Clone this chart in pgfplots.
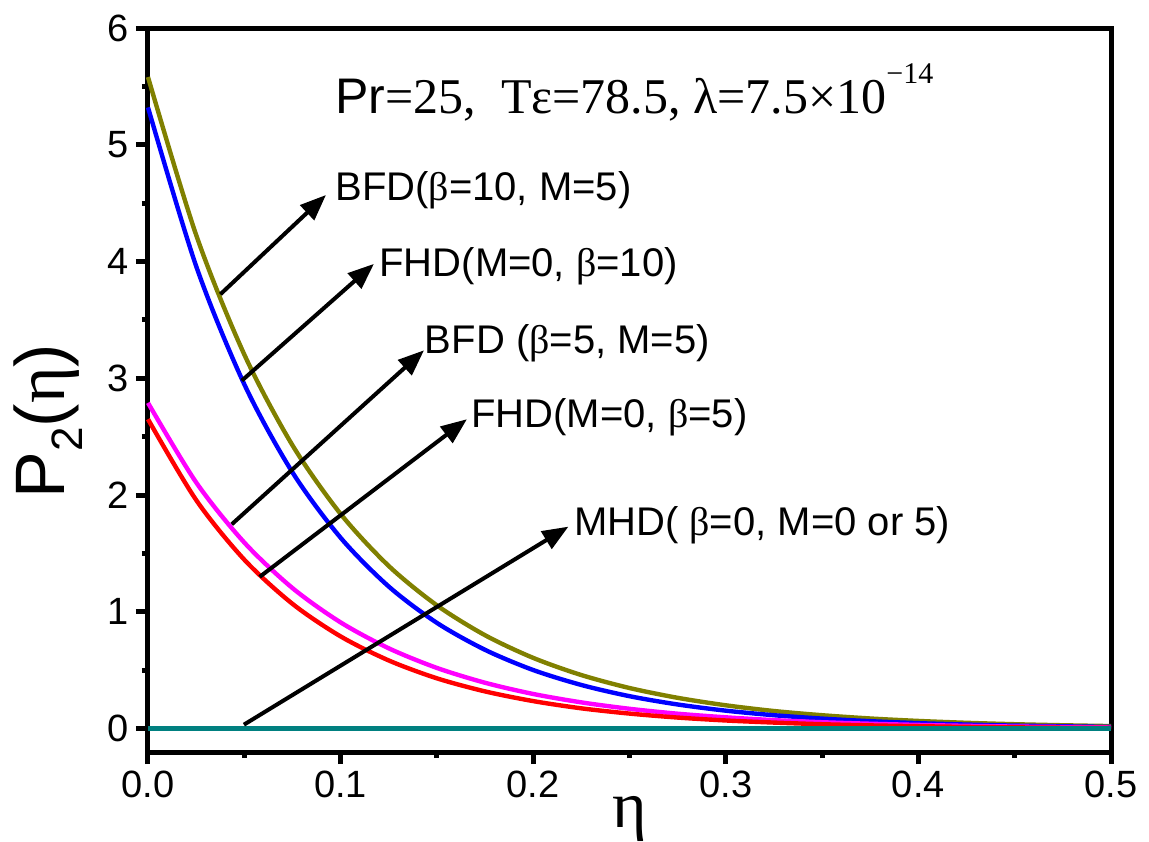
\documentclass[border=0pt]{standalone}
\usepackage{pgfplots}
\usepackage{pgfplotstable}
\pgfplotsset{compat=1.18}
\usetikzlibrary{arrows.meta}
\usepackage{fontspec}
\setmainfont{Liberation Serif}
\setsansfont{Liberation Sans}
\definecolor{curveolive}{RGB}{128,128,0}
\definecolor{curveteal}{RGB}{0,128,128}
\definecolor{curvemagenta}{RGB}{255,0,255}
\definecolor{curveblue}{RGB}{0,0,255}
\definecolor{curvered}{RGB}{255,0,0}
\newcommand{\gb}{{\rmfamily β}}

% eta, BFD(beta=10), FHD(beta=10), BFD(beta=5), FHD(beta=5)
\pgfplotstableread{
x      bfdten fhdten bfdfive fhdfive
0.000  5.580  5.320  2.790   2.650
0.025  4.228  3.961  2.109   1.958
0.050  3.204  2.949  1.594   1.447
0.075  2.427  2.195  1.204   1.069
0.100  1.839  1.635  0.910   0.790
0.125  1.393  1.217  0.688   0.584
0.150  1.056  0.906  0.520   0.431
0.175  0.800  0.675  0.393   0.319
0.200  0.606  0.502  0.297   0.236
0.225  0.459  0.374  0.225   0.174
0.250  0.348  0.278  0.170   0.129
0.275  0.264  0.207  0.128   0.095
0.300  0.200  0.154  0.097   0.070
0.325  0.151  0.115  0.073   0.052
0.350  0.115  0.086  0.055   0.038
0.375  0.087  0.064  0.042   0.028
0.400  0.066  0.047  0.032   0.021
0.425  0.050  0.035  0.024   0.015
0.450  0.038  0.026  0.018   0.011
0.475  0.029  0.020  0.014   0.008
0.500  0.022  0.015  0.010   0.006
}\curves

\begin{document}
\begin{tikzpicture}[
  note/.style={anchor=base west, inner sep=0pt, font=\sffamily\fontsize{20}{24}\selectfont},
  pointer/.style={line width=2pt, -{Triangle[length=13pt,width=10pt]}},
]
\useasboundingbox (-74pt,-44.5pt) rectangle (500.5pt,376pt);
\begin{axis}[
  at={(0,0)}, anchor=south west,
  scale only axis, width=481.5pt, height=362pt,
  xmin=0, xmax=0.5, ymin=-0.2, ymax=6,
  xtick={0,0.1,...,0.5}, ytick={0,1,...,6},
  minor x tick num=1, minor y tick num=1,
  xtick pos=left, ytick pos=left,
  tick align=outside,
  major tick length=6pt, minor tick length=3pt,
  axis line style={line width=2.5pt},
  every tick/.style={black, line width=2.5pt},
  xticklabel style={/pgf/number format/.cd, fixed, fixed zerofill, precision=1},
  /pgf/number format/assume math mode=true,
  tick label style={font=\sffamily\fontsize{19}{22}\selectfont},
  xlabel={η}, ylabel={P\raisebox{-0.25em}{\fontsize{22}{22}\selectfont 2}({\rmfamily η})},
  xlabel style={at={(axis description cs:0.5,-0.104)}, anchor=base,
    font=\rmfamily\fontsize{33}{36}\selectfont},
  ylabel style={at={(axis description cs:-0.0862,0.457)}, anchor=base,
    font=\sffamily\fontsize{35}{38}\selectfont},
  clip=false,
]
\addplot[no marks, smooth, line width=2.2pt, curveolive] table[x=x, y=bfdten] {\curves};
\addplot[no marks, smooth, line width=2.2pt, curveblue] table[x=x, y=fhdten] {\curves};
\addplot[no marks, smooth, line width=2.2pt, curvemagenta] table[x=x, y=bfdfive] {\curves};
\addplot[no marks, smooth, line width=2.2pt, curvered] table[x=x, y=fhdfive] {\curves};
\addplot[no marks, line width=2.6pt, curveteal] coordinates {(0,0) (0.5,0)};

\draw[pointer] (axis cs:0.0376,3.72) -- (axis cs:0.0924,4.57);
\draw[pointer] (axis cs:0.0487,2.98) -- (axis cs:0.1173,3.98);
\draw[pointer] (axis cs:0.0435,1.75) -- (axis cs:0.1433,3.24);
\draw[pointer] (axis cs:0.0580,1.30) -- (axis cs:0.1656,2.65);
\draw[pointer] (axis cs:0.0498,0.034) -- (axis cs:0.2183,1.73);

\node[note] at (axis cs:0.0971,4.52) {BFD(\gb=10, M=5)};
\node[note] at (axis cs:0.1200,3.87) {FHD(M=0, \gb=10)};
\node[note] at (axis cs:0.1436,3.21) {BFD (\gb=5, M=5)};
\node[note] at (axis cs:0.1677,2.58) {FHD(M=0, \gb=5)};
\node[note] at (axis cs:0.2210,1.65) {MHD( \gb=0, M=0 or 5)};

\node[anchor=base west, inner sep=0pt, font=\rmfamily\fontsize{25}{30}\selectfont]
  at (axis cs:0.0971,5.27)
  {{\sffamily Pr}=25,\ \ Tε=78.5, λ=7.5×10\raisebox{0.6em}{\fontsize{15}{15}\selectfont −14}};
\end{axis}
\end{tikzpicture}
\end{document}
